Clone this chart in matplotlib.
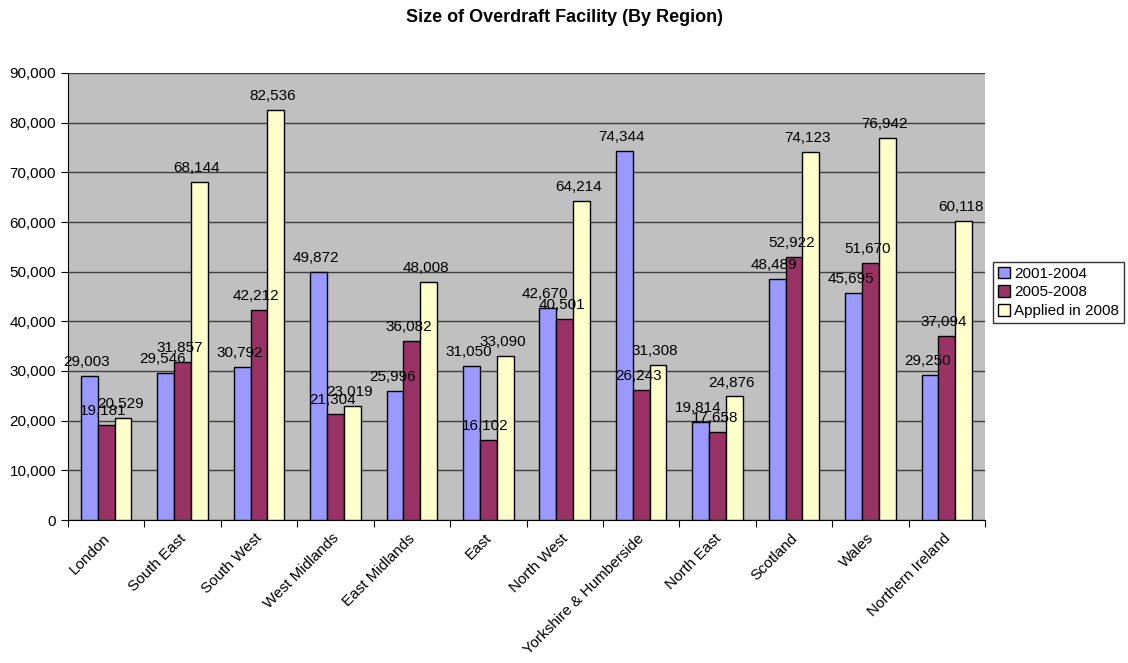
import matplotlib
matplotlib.use("Agg")
import matplotlib.pyplot as plt
import numpy as np
from matplotlib.ticker import FuncFormatter, MultipleLocator

plt.rcParams['font.family'] = ['Liberation Sans', 'DejaVu Sans']

regions = ["London", "South East", "South West", "West Midlands", "East Midlands", "East",
           "North West", "Yorkshire & Humberside", "North East", "Scotland", "Wales", "Northern Ireland"]
series_names = ["2001-2004", "2005-2008", "Applied in 2008"]
s2001 = [29003, 29546, 30792, 49872, 25996, 31050, 42670, 74344, 19814, 48489, 45695, 29250]
s2005 = [19181, 31857, 42212, 21304, 36082, 16102, 40501, 26243, 17658, 52922, 51670, 37094]
s2008 = [20529, 68144, 82536, 23019, 48008, 33090, 64214, 31308, 24876, 74123, 76942, 60118]
colors = ["#9999FF", "#993366", "#FFFFCC"]

fig = plt.figure(figsize=(11.28, 6.63), dpi=100)
ax = fig.add_axes([68/1128, 1-520/663, (985-68)/1128, (520-73)/663])
ax.set_facecolor("#C0C0C0")

x = np.arange(len(regions))
w = 0.22
for i, (vals, c, name) in enumerate(zip([s2001, s2005, s2008], colors, series_names)):
    bars = ax.bar(x + (i-1)*w, vals, w, color=c, edgecolor="black", linewidth=1.0, label=name, zorder=3)
    for b, v in zip(bars, vals):
        ax.annotate(f"{v:,}", (b.get_x()+b.get_width()/2, v), xytext=(-2, 5), textcoords="offset points",
                    ha="center", va="bottom", fontsize=11, color="black", zorder=4)

ax.set_ylim(0, 90000)
ax.set_xlim(-0.5, len(regions)-0.5)
ax.yaxis.set_major_locator(MultipleLocator(10000))
ax.yaxis.set_major_formatter(FuncFormatter(lambda v, p: f"{int(v):,}"))
ax.yaxis.grid(True, color="#404040", linewidth=1.0, zorder=0)
ax.set_axisbelow(True)
ax.tick_params(axis='y', labelsize=11, length=5, direction='out', color='black')

ax.set_xticks(np.arange(len(regions)+1) - 0.5, minor=False)
ax.set_xticklabels([])
ax.set_xticks(x - 0.05, minor=True)
ax.set_xticklabels(regions, minor=True, rotation=45, ha="right", rotation_mode="anchor", fontsize=11)
ax.tick_params(axis='x', which='major', length=5, direction='out')
ax.tick_params(axis='x', which='minor', length=0, pad=8)

for side in ["top", "right"]:
    ax.spines[side].set_visible(False)
ax.spines["left"].set_color("black")
ax.spines["bottom"].set_color("black")

fig.suptitle("Size of Overdraft Facility (By Region)", x=0.5, y=1-17/663, va="center",
             fontsize=13, fontweight="bold")

leg = fig.legend(loc="upper left", bbox_to_anchor=(993/1128, 1-262/663), frameon=True, fancybox=False,
                 edgecolor="black", fontsize=11, handlelength=0.8, handleheight=0.8, handletextpad=0.3,
                 borderpad=0.3, labelspacing=0.3, borderaxespad=0)
leg.get_frame().set_linewidth(1.0)

fig.savefig("out.png", dpi=100)
